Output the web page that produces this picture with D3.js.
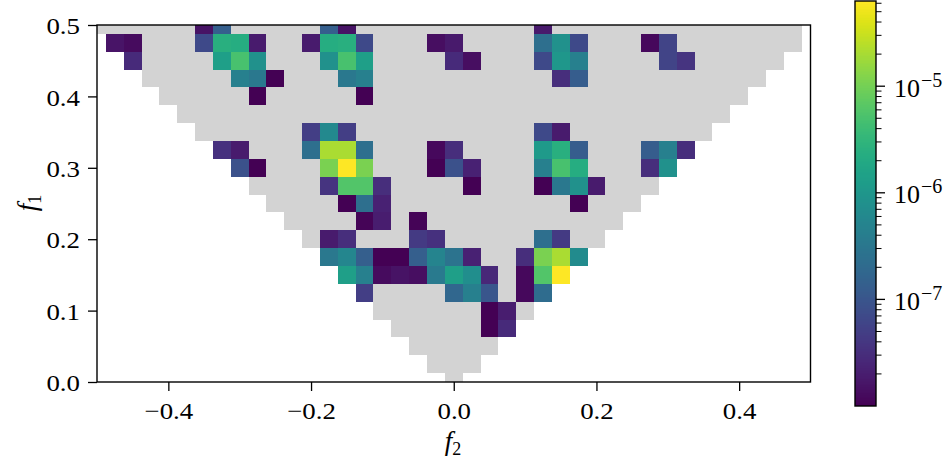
<!DOCTYPE html>
<html><head><meta charset="utf-8">
<script src="https://cdn.jsdelivr.net/npm/d3@7"></script>
<style>body{margin:0;background:#fff} svg{display:block}</style>
</head><body>
<svg id="chart" width="951" height="465"></svg>
<script>
// ---------------- data ----------------
const binWidth = 0.025;                       // frequency resolution (1/40)
// rows of the principal domain: f1 index j (f1 = j*binWidth), f2 index range [lo, hi]
const rowF1Index = [0,1,2,3,4,5,6,7,8,9,10,11,12,13,14,15,16,17,18,19,20];
const rowF2Lo    = [0,-1,-2,-3,-4,-5,-6,-7,-8,-9,-10,-11,-12,-13,-14,-15,-16,-17,-18,-19,-20];
const rowF2Hi    = [0,1,2,3,4,5,6,7,8,9,10,11,12,13,14,15,16,17,18,19,19];

// significant cells: f1 index, f2 index, bispectrum magnitude
const peakF1 = [
 20,20,20,20,20,
 19,19,19,19,19,19,19,19,19,19,19,19,19,19,19,19,19,
 18,18,18,18,18,18,18,18,18,18,18,18,18,18,
 17,17,17,17,17,17,17,
 16,16,
 14,14,14,14,14,
 13,13,13,13,13,13,13,13,13,13,13,13,13,13,
 12,12,12,12,12,12,12,12,12,12,12,12,12,
 11,11,11,11,11,11,11,11,11,
 10,10,10,10,
 9,9,9,
 8,8,8,8,8,8,
 7,7,7,7,7,7,7,7,7,7,7,7,7,
 6,6,6,6,6,6,6,6,6,6,6,6,
 5,5,5,5,5,5,
 4,4,
 3,3];
const peakF2 = [
 -14,-13,-7,-6,5,
 -19,-18,-14,-13,-12,-11,-8,-7,-6,-5,-1,0,5,6,7,11,12,
 -18,-13,-12,-11,-7,-6,-5,0,1,5,6,7,12,13,
 -12,-11,-10,-6,-5,6,7,
 -11,-5,
 -8,-7,-6,5,6,
 -13,-12,-8,-7,-6,-5,-1,0,5,6,7,11,12,13,
 -12,-11,-7,-6,-5,-1,0,1,5,6,7,11,12,
 -7,-6,-5,-4,1,5,6,7,8,
 -6,-5,-4,7,
 -5,-4,-2,
 -7,-6,-2,-1,5,6,
 -7,-6,-5,-4,-3,-2,-1,0,1,4,5,6,7,
 -6,-5,-4,-3,-2,-1,0,1,2,4,5,6,
 -5,0,1,2,4,5,
 2,3,
 2,3];
const peakValue = [
 1.55e-8,1.38e-7,1.38e-7,1.55e-8,1.8e-8,
 1.6e-8,1.3e-8,6.85e-8,2.48e-6,2.27e-6,1.85e-8,1.85e-8,2.27e-6,2.48e-6,6.85e-8,1.4e-8,1.8e-8,2.33e-7,7.94e-7,6.85e-8,1.2e-8,5.75e-8,
 2.8e-8,1.34e-6,4.99e-6,7.94e-7,7.94e-7,4.99e-6,1.34e-6,2.8e-8,1.4e-8,6.85e-8,1.03e-6,4.31e-7,5.75e-8,3.72e-8,
 4.31e-7,3.31e-7,1.0e-8,3.31e-7,4.31e-7,3.12e-8,1.26e-7,
 1.0e-8,1.0e-8,
 4.83e-8,6.11e-7,4.83e-8,6.85e-8,1.85e-8,
 3.4e-8,1.85e-8,2.33e-7,2.11e-5,2.11e-5,2.33e-7,1.2e-8,3.12e-8,1.13e-6,2.48e-6,1.26e-7,1.26e-7,4.31e-7,3.12e-8,
 8.9e-8,1.0e-8,1.1e-5,6.3e-5,1.1e-5,1.0e-8,8.9e-8,2.2e-8,4.31e-7,4.99e-6,2.27e-6,3.12e-8,7.94e-7,
 3.72e-8,5.94e-6,5.94e-6,3.12e-8,1.0e-8,1.0e-8,3.31e-7,7.94e-7,1.85e-8,
 1.0e-8,2.33e-7,2.2e-8,1.0e-8,
 1.09e-8,2.0e-8,1.09e-8,
 1.85e-8,3.12e-8,4.43e-8,3.4e-8,2.33e-7,4.43e-8,
 3.31e-7,5.6e-7,1.38e-7,1.0e-8,1.0e-8,1.38e-7,5.13e-7,2.8e-7,2.2e-8,3.12e-8,1.1e-5,2.11e-5,6.67e-7,
 1.34e-6,4.31e-7,1.3e-8,1.55e-8,1.4e-8,3.61e-7,1.34e-6,7.3e-7,2.62e-8,1.2e-8,5.94e-6,6.3e-5,
 4.83e-8,1.79e-7,4.31e-7,1.05e-7,1.2e-8,2.14e-7,
 1.0e-8,2.0e-8,
 1.0e-8,2.8e-8];

const xTicks = [-0.4,-0.2,0.0,0.2,0.4];
const yTicks = [0.0,0.1,0.2,0.3,0.4,0.5];
const cbMin = 1.0e-8, cbMax = 6.3e-5;
const cbMajor = [1e-7,1e-6,1e-5];
const cbMajorExp = ["−7","−6","−5"];

// ---------------- drawing ----------------
const svg = d3.select("#chart");
const M = {left:97, right:810.5, top:25, bottom:382};
const x = d3.scaleLinear().domain([-0.5,0.5]).range([M.left,M.right]);
const y = d3.scaleLinear().domain([0,0.5]).range([M.bottom,M.top]);
const color = d3.scaleSequentialLog(d3.interpolateViridis).domain([cbMin,cbMax]);
const FONT = "'Liberation Serif','Times New Roman',serif";

svg.append("defs").append("clipPath").attr("id","clip").append("rect")
  .attr("x",M.left).attr("y",M.top).attr("width",M.right-M.left).attr("height",M.bottom-M.top);
const plot = svg.append("g").attr("clip-path","url(#clip)").attr("shape-rendering","crispEdges");

// grey principal-domain rows
plot.selectAll("rect.dom").data(rowF1Index).join("rect").attr("class","dom")
  .attr("x",(j,k)=>x((rowF2Lo[k]-0.5)*binWidth))
  .attr("width",(j,k)=>x((rowF2Hi[k]+0.5)*binWidth)-x((rowF2Lo[k]-0.5)*binWidth))
  .attr("y",j=>y((j+0.5)*binWidth))
  .attr("height",j=>y((j-0.5)*binWidth)-y((j+0.5)*binWidth))
  .attr("fill","#d3d3d3");

// coloured cells
const peaks = peakValue.map((v,k)=>({j:peakF1[k], i:peakF2[k], v}));
plot.selectAll("rect.pk").data(peaks).join("rect").attr("class","pk")
  .attr("x",d=>x((d.i-0.5)*binWidth))
  .attr("width",d=>x((d.i+0.5)*binWidth)-x((d.i-0.5)*binWidth))
  .attr("y",d=>y((d.j+0.5)*binWidth))
  .attr("height",d=>y((d.j-0.5)*binWidth)-y((d.j+0.5)*binWidth))
  .attr("fill",d=>color(d.v));

// axes
const fmt = d3.format(".1f");
const gx = svg.append("g").attr("transform",`translate(0,${M.bottom})`)
  .call(d3.axisBottom(x).tickValues(xTicks).tickSize(9).tickPadding(11).tickFormat(fmt));
const gy = svg.append("g").attr("transform",`translate(${M.left},0)`)
  .call(d3.axisLeft(y).tickValues(yTicks).tickSize(9).tickPadding(8).tickFormat(fmt));
[gx,gy].forEach(g=>{
  g.select(".domain").remove();
  g.selectAll(".tick line").attr("stroke","#000").attr("stroke-width",1.3);
  g.selectAll(".tick text").attr("font-family",FONT).attr("font-size",24).attr("fill","#000");
});
gx.selectAll(".tick text").attr("transform","scale(1.12,1)");
gy.selectAll(".tick text").attr("x",-17/1.12).attr("dy","0.36em").attr("transform","scale(1.12,1)");

// frame
svg.append("rect").attr("x",M.left).attr("y",M.top).attr("width",M.right-M.left).attr("height",M.bottom-M.top)
  .attr("fill","none").attr("stroke","#000").attr("stroke-width",1.4);

// axis labels
const xl = svg.append("text").attr("x",453).attr("y",450).attr("text-anchor","middle")
  .attr("font-family",FONT).attr("font-size",27);
xl.append("tspan").attr("font-style","italic").text("f");
xl.append("tspan").attr("font-size",18).attr("dy",5).text("2");
const yl = svg.append("text").attr("transform","translate(36,203) rotate(-90)").attr("text-anchor","middle")
  .attr("font-family",FONT).attr("font-size",27);
yl.append("tspan").attr("font-style","italic").text("f");
yl.append("tspan").attr("font-size",18).attr("dy",5).text("1");

// colorbar
const CB = {x:855, w:21, top:1, bottom:406};
const cy = d3.scaleLog().domain([cbMin,cbMax]).range([CB.bottom,CB.top]);
const cb = svg.append("g").attr("shape-rendering","crispEdges");
cb.selectAll("rect").data(d3.range(CB.top,CB.bottom)).join("rect")
  .attr("x",CB.x).attr("width",CB.w).attr("y",p=>p).attr("height",1.2)
  .attr("fill",p=>color(cy.invert(p+0.5)));
svg.append("rect").attr("x",CB.x).attr("y",CB.top).attr("width",CB.w).attr("height",CB.bottom-CB.top)
  .attr("fill","none").attr("stroke","#000").attr("stroke-width",1.4);
const minor = [];
[1e-8,1e-7,1e-6,1e-5].forEach(b=>{ for(let m=2;m<=9;m++){ const v=m*b; if(v>cbMin && v<cbMax) minor.push(v);} });
svg.append("g").selectAll("line").data(minor).join("line")
  .attr("x1",CB.x+CB.w).attr("x2",CB.x+CB.w+5.5).attr("y1",d=>cy(d)).attr("y2",d=>cy(d))
  .attr("stroke","#000").attr("stroke-width",1);
svg.append("g").selectAll("line").data(cbMajor).join("line")
  .attr("x1",CB.x+CB.w).attr("x2",CB.x+CB.w+9).attr("y1",d=>cy(d)).attr("y2",d=>cy(d))
  .attr("stroke","#000").attr("stroke-width",1.3);
const lab = svg.append("g").selectAll("text").data(cbMajor).join("text")
  .attr("x",894).attr("y",d=>cy(d)+10.5).attr("font-family",FONT).attr("font-size",26).attr("fill","#000");
lab.append("tspan").text("10");
lab.append("tspan").attr("font-size",20).attr("dx",1).attr("dy",-10).text((d,k)=>cbMajorExp[k]);
</script>
</body></html>
